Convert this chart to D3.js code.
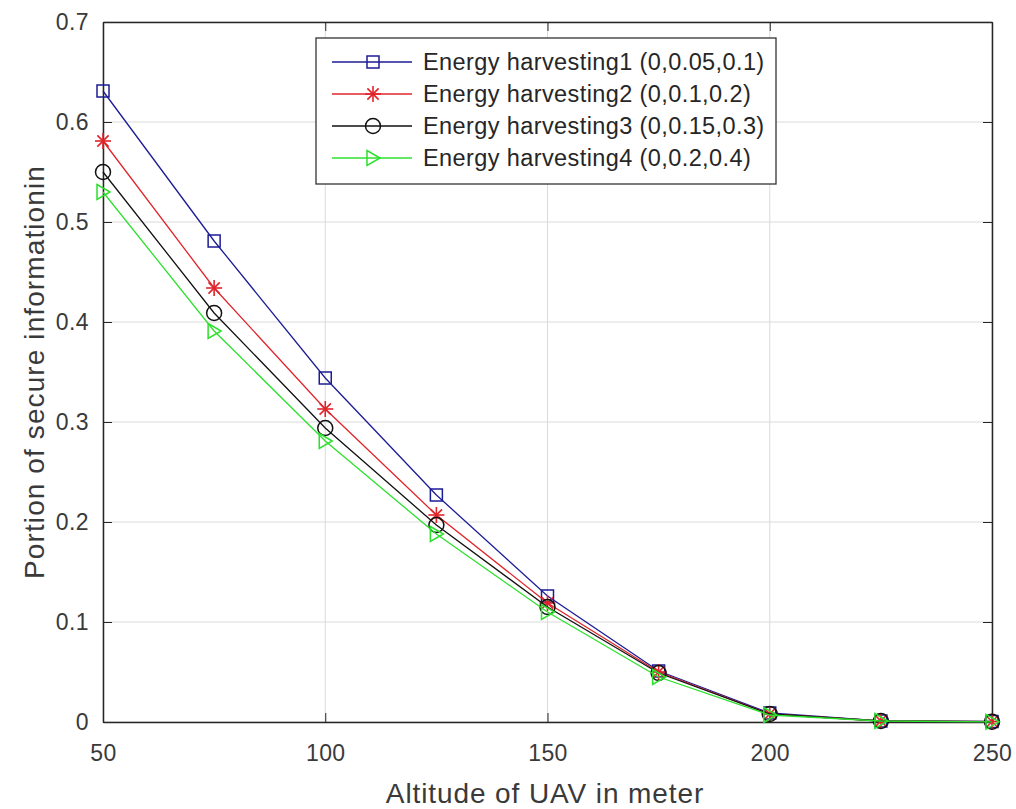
<!DOCTYPE html>
<html><head><meta charset="utf-8">
<script src="https://cdn.jsdelivr.net/npm/d3@7"></script>
<style>body{margin:0;background:#fff;} svg{display:block;}</style>
</head><body>
<svg id="c" width="1016" height="809"></svg>
<script>
const altitudes = [50, 75, 100, 125, 150, 175, 200, 225, 250];
const eh1 = [0.631, 0.481, 0.344, 0.227, 0.126, 0.051, 0.009, 0.001, 0.0005];
const eh2 = [0.581, 0.434, 0.313, 0.207, 0.119, 0.050, 0.008, 0.001, 0.0004];
const eh3 = [0.550, 0.409, 0.294, 0.197, 0.115, 0.049, 0.008, 0.001, 0.0003];
const eh4 = [0.530, 0.391, 0.281, 0.188, 0.110, 0.045, 0.007, 0.001, 0.0002];
const seriesNames = ["Energy harvesting1 (0,0.05,0.1)", "Energy harvesting2 (0,0.1,0.2)", "Energy harvesting3 (0,0.15,0.3)", "Energy harvesting4 (0,0.2,0.4)"];
const xTicks = [50, 100, 150, 200, 250];
const yTicks = [0, 0.1, 0.2, 0.3, 0.4, 0.5, 0.6, 0.7];

const colors = ["#1c1c96", "#e0242a", "#111111", "#2ee02e"];
const markers = ["square", "star", "circle", "triangle"];
const series = [eh1, eh2, eh3, eh4];

const svg = d3.select("#c");
const L = 103, R = 992, T = 22, B = 722;
const x = d3.scaleLinear().domain([50, 250]).range([L, R]);
const y = d3.scaleLinear().domain([0, 0.7]).range([B, T]);

// grid
const g = svg.append("g");
g.selectAll(".gx").data(xTicks).enter().append("line")
  .attr("x1", d => x(d)).attr("x2", d => x(d)).attr("y1", T).attr("y2", B)
  .attr("stroke", "#dadada").attr("stroke-width", 1);
g.selectAll(".gy").data(yTicks).enter().append("line")
  .attr("x1", L).attr("x2", R).attr("y1", d => y(d)).attr("y2", d => y(d))
  .attr("stroke", "#dadada").attr("stroke-width", 1);

// axes
const font = "'Liberation Sans', Arial, sans-serif";
const xAxis = d3.axisBottom(x).tickValues(xTicks).tickSizeInner(-9).tickSizeOuter(0).tickPadding(23);
const yAxis = d3.axisLeft(y).tickValues(yTicks).tickSizeInner(-9).tickSizeOuter(0).tickPadding(14).tickFormat(d => d === 0 ? "0" : d3.format(".1f")(d));
const ax = svg.append("g").attr("transform", `translate(0,${B})`).call(xAxis);
const ay = svg.append("g").attr("transform", `translate(${L},0)`).call(yAxis);
const ax2 = svg.append("g").attr("transform", `translate(0,${T})`).call(d3.axisTop(x).tickValues(xTicks).tickSizeInner(-9).tickSizeOuter(0).tickFormat(""));
const ay2 = svg.append("g").attr("transform", `translate(${R},0)`).call(d3.axisRight(y).tickValues(yTicks).tickSizeInner(-9).tickSizeOuter(0).tickFormat(""));
[ax, ay, ax2, ay2].forEach(a => {
  a.select(".domain").attr("stroke", "#262626").attr("stroke-width", 1.5);
  a.selectAll(".tick line").attr("stroke", "#262626");
  a.selectAll("text").attr("font-family", font).attr("font-size", 23).attr("letter-spacing", 0.4).attr("fill", "#3a3a3a");
});

// lines
const line = d3.line().x((d, i) => x(altitudes[i])).y(d => y(d));
function drawMarker(sel, type, color, cx, cy) {
  if (type === "square") {
    sel.append("rect").attr("x", cx - 6).attr("y", cy - 6).attr("width", 12).attr("height", 12)
      .attr("fill", "none").attr("stroke", color).attr("stroke-width", 1.5);
  } else if (type === "star") {
    const r = 8;
    for (let k = 0; k < 4; k++) {
      const a = k * Math.PI / 4;
      sel.append("line").attr("x1", cx - r * Math.cos(a)).attr("y1", cy - r * Math.sin(a))
        .attr("x2", cx + r * Math.cos(a)).attr("y2", cy + r * Math.sin(a))
        .attr("stroke", color).attr("stroke-width", 1.6);
    }
  } else if (type === "circle") {
    sel.append("circle").attr("cx", cx).attr("cy", cy).attr("r", 7.5)
      .attr("fill", "none").attr("stroke", color).attr("stroke-width", 1.5);
  } else {
    sel.append("path").attr("d", `M${cx - 6},${cy - 7.5}L${cx + 7},${cy}L${cx - 6},${cy + 7.5}Z`)
      .attr("fill", "none").attr("stroke", color).attr("stroke-width", 1.5);
  }
}
series.forEach((s, si) => {
  const sg = svg.append("g");
  sg.append("path").datum(s).attr("d", line).attr("fill", "none")
    .attr("stroke", colors[si]).attr("stroke-width", 1.3);
  s.forEach((v, i) => drawMarker(sg, markers[si], colors[si], x(altitudes[i]), y(v)));
});

// labels
svg.append("text").attr("x", 545).attr("y", 803).attr("text-anchor", "middle")
  .attr("font-family", font).attr("font-size", 28).attr("letter-spacing", 0.9).attr("fill", "#3a3a3a").text("Altitude of UAV in meter");
svg.append("text").attr("transform", `translate(44,372) rotate(-90)`).attr("text-anchor", "middle")
  .attr("font-family", font).attr("font-size", 28).attr("letter-spacing", 1.1).attr("fill", "#3a3a3a").text("Portion of secure informationin");

// legend
const lg = svg.append("g");
lg.append("rect").attr("x", 316).attr("y", 38).attr("width", 460).attr("height", 146)
  .attr("fill", "#fff").attr("stroke", "#333").attr("stroke-width", 1.3);
seriesNames.forEach((n, i) => {
  const ly = 62 + i * 32;
  lg.append("line").attr("x1", 332).attr("x2", 412).attr("y1", ly).attr("y2", ly)
    .attr("stroke", colors[i]).attr("stroke-width", 1.3);
  drawMarker(lg, markers[i], colors[i], 373, ly);
  lg.append("text").attr("x", 423).attr("y", ly + 8).attr("font-family", font).attr("font-size", 23.5)
    .attr("letter-spacing", 0.4).attr("fill", "#262626").text(n);
});
</script>
</body></html>
